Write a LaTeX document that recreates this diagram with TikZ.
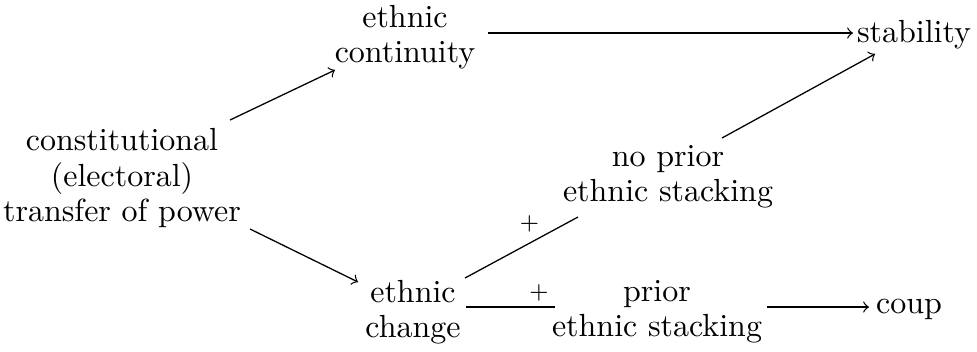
\documentclass[tikz,border=0pt]{standalone}
\begin{document}
\begin{tikzpicture}[x=0.3125pt,y=-0.3125pt,
  lab/.style={align=center,inner sep=3pt,font=\fontsize{10}{11.1}\selectfont},
  arr/.style={->},
  plus/.style={font=\fontsize{7}{8}\selectfont,inner sep=1pt}]
\useasboundingbox (0,0) rectangle (977,351);
\node[lab] (const) at (122,178) {constitutional\\(electoral)\\transfer of power};
\node[lab] (cont) at (405,37) {ethnic\\continuity};
\node[lab,anchor=base] (stab) at (914,42) {stability};
\node[lab] (noprior) at (668,177) {no prior\\ethnic stacking};
\node[lab] (change) at (413,312) {ethnic\\change};
\node[lab] (prior) at (657,312) {prior\\ethnic stacking};
\node[lab,anchor=base] (coup) at (909,313) {coup};
\draw[arr] ([shift={(108,-58)}]const.center) -- ([shift={(-70,33)}]cont.center);
\draw[arr] ([shift={(128,51)}]const.center) -- ([shift={(-55,-30)}]change.center);
\draw[arr] ([shift={(83,-4)}]cont.center) -- ([shift={(-61,-9)}]stab.base);
\draw[arr] ([shift={(54,-39)}]noprior.center) -- ([shift={(-39,12)}]stab.base);
\draw ([shift={(52,-34)}]change.center) -- node[plus,pos=0.57,above=6pt,anchor=center] {+} ([shift={(-90,40)}]noprior.center);
\draw ([shift={(53,-5)}]change.center) -- node[plus,pos=0.82,above=4.3pt,anchor=center] {+} ([shift={(-102,-5)}]prior.center);
\draw[arr] ([shift={(110,-5)}]prior.center) -- ([shift={(-40,-6)}]coup.base);
\end{tikzpicture}
\end{document}
